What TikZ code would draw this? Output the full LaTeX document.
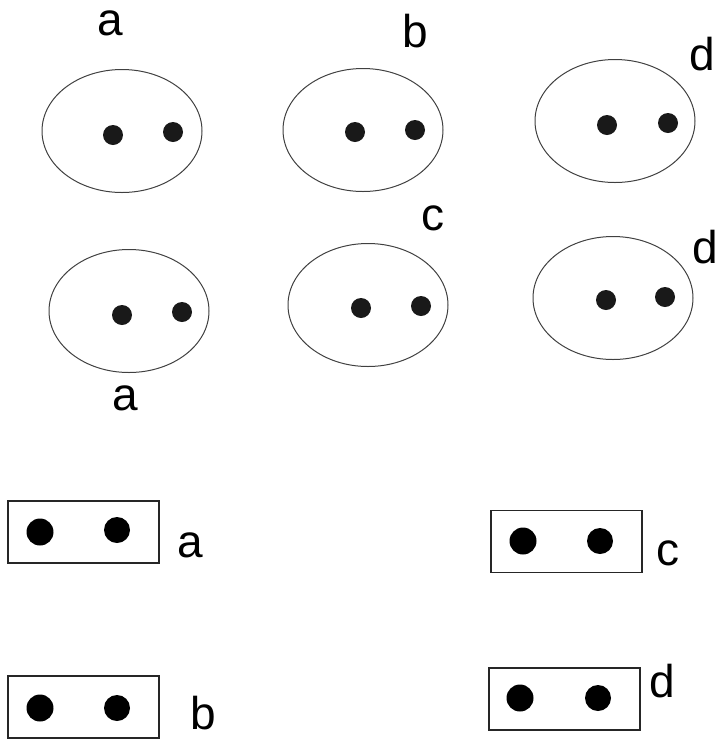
\documentclass[tikz,border=0pt]{standalone}
\usepackage{fontspec}
\setmainfont{Liberation Sans}
\usetikzlibrary{shapes.geometric}
\begin{document}
\begin{tikzpicture}[x=1pt,y=-1pt,
  ell/.style={draw=black!75,line width=1pt,ellipse,minimum width=160pt,minimum height=123pt,inner sep=0pt},
  sdot/.style={circle,fill=black!90,minimum size=20pt,inner sep=0pt},
  bdot/.style={circle,fill=black,minimum size=27pt,inner sep=0pt},
  box/.style={draw=black!85,line width=1.4pt,minimum width=151pt,minimum height=62pt,inner sep=0pt},
  lab/.style={font=\fontsize{46}{50}\selectfont,anchor=base,inner sep=0pt}]
\useasboundingbox (0,0) rectangle (717,740);
% top row ellipses
\node[ell] (e1) at (122,131) {};
\node[sdot] (e1a) at (113,135) {};
\node[sdot] (e1b) at (173,132) {};
\node[lab] (l1) at (110,35) {a};
\node[ell] (e2) at (363,130) {};
\node[sdot] (e2a) at (355,132) {};
\node[sdot] (e2b) at (415,130) {};
\node[lab] (l2) at (415,47) {b};
\node[ell] (e3) at (615,121) {};
\node[sdot] (e3a) at (607,125) {};
\node[sdot] (e3b) at (668,123) {};
\node[lab] (l3) at (702,70) {d};
% middle row ellipses
\node[ell] (e4) at (129,311) {};
\node[sdot] (e4a) at (122,315) {};
\node[sdot] (e4b) at (182,312) {};
\node[lab] (l4) at (125,410) {a};
\node[ell] (e5) at (368,305) {};
\node[sdot] (e5a) at (361,308) {};
\node[sdot] (e5b) at (421,306) {};
\node[lab] (l5) at (433,230) {c};
\node[ell] (e6) at (613,298) {};
\node[sdot] (e6a) at (606,300) {};
\node[sdot] (e6b) at (665,297) {};
\node[lab] (l6) at (705,263) {d};
% rectangles
\node[box] (r1) at (83.5,532) {};
\node[bdot] (r1a) at (40,532) {};
\node[bdot,minimum size=26pt] (r1b) at (117,530) {};
\node[lab] (m1) at (190,557) {a};
\node[box] (r2) at (566.5,541.5) {};
\node[bdot] (r2a) at (523,541) {};
\node[bdot,minimum size=26pt] (r2b) at (600,541) {};
\node[lab] (m2) at (668,565) {c};
\node[box] (r3) at (83.5,707) {};
\node[bdot] (r3a) at (40,708) {};
\node[bdot,minimum size=26pt] (r3b) at (117,708) {};
\node[lab] (m3) at (203,729) {b};
\node[box] (r4) at (564.5,699) {};
\node[bdot] (r4a) at (520,698) {};
\node[bdot,minimum size=26pt] (r4b) at (598,698) {};
\node[lab] (m4) at (662,697) {d};
\end{tikzpicture}
\end{document}
